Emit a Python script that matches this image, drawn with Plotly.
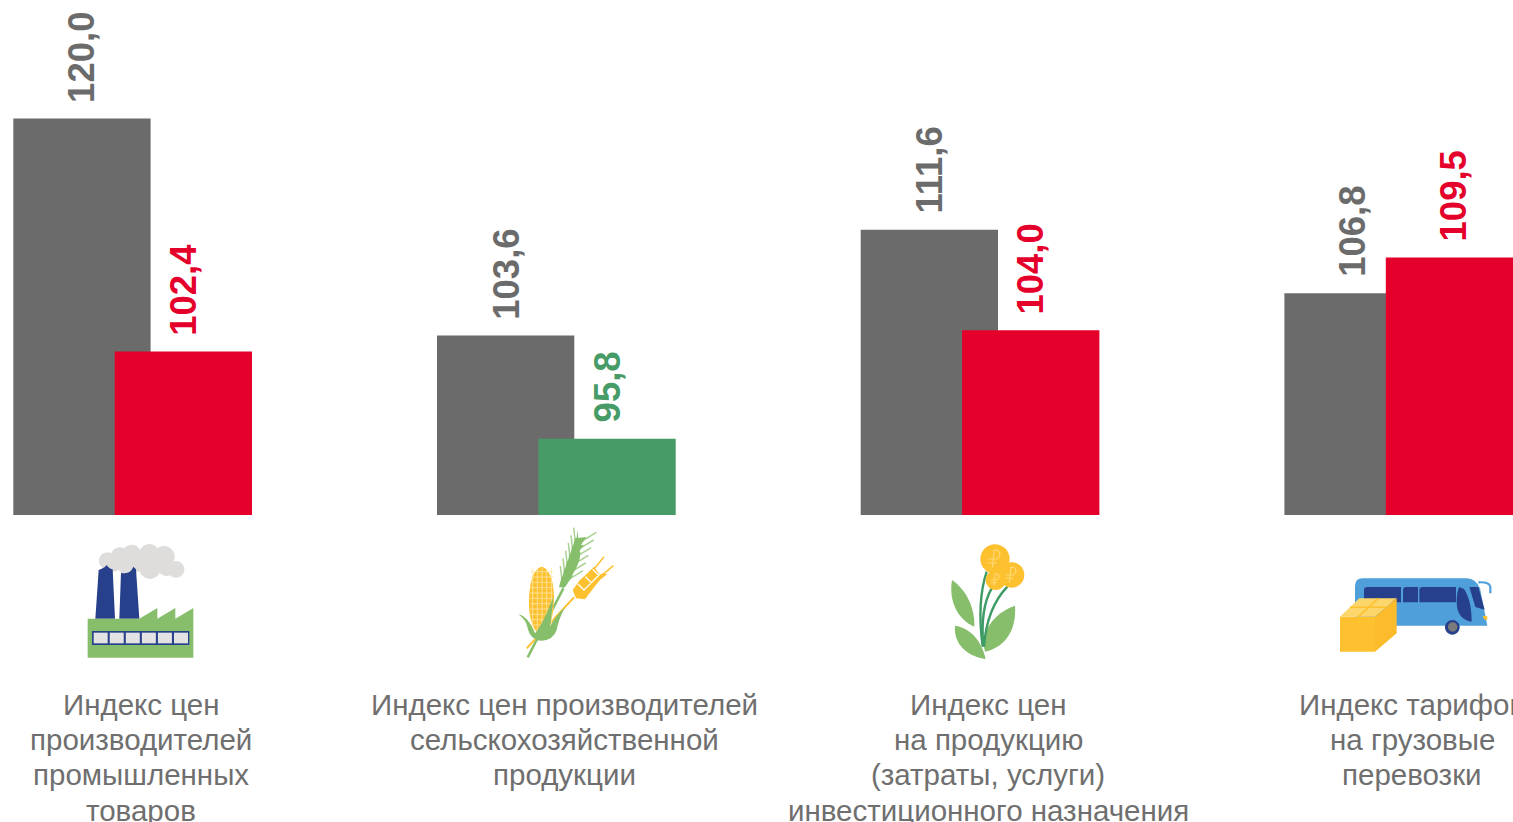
import plotly.graph_objects as go

category_lines = [
    ["Индекс цен", "производителей", "промышленных", "товаров"],
    ["Индекс цен производителей", "сельскохозяйственной", "продукции"],
    ["Индекс цен", "на продукцию", "(затраты, услуги)", "инвестиционного назначения"],
    ["Индекс тарифов", "на грузовые", "перевозки"],
]
previous_values = [120.0, 103.6, 111.6, 106.8]
current_values = [102.4, 95.8, 104.0, 109.5]

GREY = "#6B6B6B"
RED = "#E4002B"
GREEN = "#469B67"
TEXT = "#6F6F6F"
W, H = 1513, 822
BOTTOM = 515
PITCH = 423.7
CENTER0 = 141.0
Y_BASE = 90.05
Y_PER_PX = 1 / 13.24

def cx(px):
    return (px - CENTER0) / PITCH

positions = list(range(len(category_lines)))
bar_w = 137.3 / PITCH
off_prev = cx(13.3)
off_cur = cx(114.7)
cur_colors = [GREEN if v < 100 else RED for v in current_values]

fig = go.Figure()
fig.add_trace(go.Bar(x=positions, y=previous_values, width=bar_w, offset=off_prev,
                     marker=dict(color=GREY, line_width=0), showlegend=False, hoverinfo="y"))
fig.add_trace(go.Bar(x=positions, y=current_values, width=bar_w, offset=off_cur,
                     marker=dict(color=cur_colors, line_width=0), showlegend=False, hoverinfo="y"))

def fmt(v):
    return f"{v:.1f}".replace(".", ",")

annotations = []
for i in positions:
    for vals, off, col in ((previous_values, off_prev, GREY), (current_values, off_cur, cur_colors[i])):
        annotations.append(dict(
            x=i + off + bar_w / 2, y=vals[i], xref="x", yref="y", text=f"<b>{fmt(vals[i])}</b>",
            showarrow=False, textangle=-90, yanchor="bottom", xanchor="center", yshift=14,
            font=dict(family="Liberation Sans", size=36.5, color=col),
        ))
    for j, line in enumerate(category_lines[i]):
        annotations.append(dict(
            x=i, y=Y_BASE, xref="x", yref="y", text=line, showarrow=False,
            xanchor="center", yanchor="middle", yshift=-(189.2 + j * 35.3),
            font=dict(family="Liberation Sans", size=29.5, color=TEXT),
        ))

shapes = []
def P(x, y):
    return f"{x / W:.5f} {(BOTTOM - y) / BOTTOM:.5f}"

def path(ox, oy, cmds, fill=None, line=None, lw=0):
    out = []
    for c in cmds:
        pts = c[1:]
        s = c[0]
        for k in range(0, len(pts), 2):
            s += (" " if k else "") + P(ox + pts[k] / 3, oy + pts[k + 1] / 3)
        out.append(s)
    shapes.append(dict(type="path", xref="paper", yref="paper", path=" ".join(out),
                       fillcolor=fill if fill else "rgba(0,0,0,0)",
                       line=dict(color=line if line else "rgba(0,0,0,0)", width=lw), layer="above"))

def poly(ox, oy, pts, fill=None, close=True, line=None, lw=0):
    cmds = [("M",) + pts[0]] + [("L",) + p for p in pts[1:]]
    if close:
        cmds.append(("Z",))
    path(ox, oy, cmds, fill=fill, line=line, lw=lw)

def circle(ox, oy, x, y, r, fill):
    k = r * 0.5523
    path(ox, oy, [("M", x - r, y), ("C", x - r, y - k, x - k, y - r, x, y - r),
                  ("C", x + k, y - r, x + r, y - k, x + r, y),
                  ("C", x + r, y + k, x + k, y + r, x, y + r),
                  ("C", x - k, y + r, x - r, y + k, x - r, y), ("Z",)], fill=fill)

def seg(ox, oy, a, b, col, lw):
    poly(ox, oy, [a, b], close=False, line=col, lw=lw)

LEAF = "#86BE6C"
NAVY = "#27408B"
YEL = "#FDC12F"
SMOKE = "#DEDDDC"
LBLUE = "#4F9FDB"

# factory
ox, oy = 70, 530
for c in [(112, 92, 25), (150, 80, 28), (185, 72, 28), (238, 72, 30), (282, 80, 32), (318, 118, 25),
          (240, 115, 32), (170, 105, 28), (290, 112, 26), (205, 95, 30), (130, 100, 25)]:
    circle(ox, oy, c[0], c[1], c[2], SMOKE)
path(ox, oy, [("M", 76, 266), ("L", 86, 120), ("Q", 106, 112, 110, 105), ("Q", 120, 118, 128, 118),
              ("L", 135, 266), ("Z",)], fill=NAVY)
path(ox, oy, [("M", 148, 266), ("L", 153, 128), ("Q", 180, 135, 190, 110), ("L", 198, 118),
              ("L", 208, 266), ("Z",)], fill=NAVY)
poly(ox, oy, [(53, 266), (208, 266), (262, 234), (262, 266), (316, 234), (316, 266), (370, 234),
              (370, 383), (53, 383)], fill=LEAF)
poly(ox, oy, [(66, 303), (358, 303), (358, 345), (66, 345)], fill=NAVY)
for i in range(6):
    x0 = 71 + i * 48.2
    poly(ox, oy, [(x0, 308), (x0 + 42, 308), (x0 + 42, 340), (x0, 340)], fill="#E3E3E3")

# grain
ox, oy = 500, 520
LEAF2 = "#A9D293"
seg(ox, oy, (83, 412), (190, 205), LEAF, 2.5)
for k in range(6):
    t = k / 5
    bx, by = 187 + 40 * t, 190 - 115 * t
    seg(ox, oy, (bx, by), (bx - 6, by - 52), LEAF2, 1.5)
    seg(ox, oy, (bx, by), (bx + 62, by - 38), LEAF2, 1.5)
    poly(ox, oy, [(bx - 10, by + 12), (bx - 2, by - 20), (bx + 32, by - 24), (bx + 8, by + 12)], fill=LEAF)
path(ox, oy, [("M", 182, 198), ("Q", 186, 170, 225, 110), ("L", 232, 30), ("L", 240, 100),
              ("Q", 245, 130, 190, 205), ("Z",)], fill=LEAF)
seg(ox, oy, (80, 385), (222, 232), YEL, 2)
seg(ox, oy, (280, 150), (312, 110), YEL, 1.5)
seg(ox, oy, (295, 175), (340, 137), YEL, 1.5)
poly(ox, oy, [(218, 210), (240, 180), (262, 160), (282, 140), (296, 160), (322, 162), (300, 180),
              (280, 205), (255, 238), (228, 235)], fill=YEL)
for k in range(3):
    d = k * 22
    poly(ox, oy, [(234 + d, 192 - d), (252 + d, 210 - d), (272 + d, 190 - d)], close=False, line="#FFFFFF", lw=1.3)
path(ox, oy, [("M", 125, 140), ("C", 90, 150, 85, 220, 88, 270), ("C", 90, 310, 110, 345, 125, 345),
              ("C", 150, 345, 162, 280, 162, 230), ("C", 162, 190, 150, 145, 125, 140), ("Z",)], fill=YEL)
for yy in range(155, 340, 16):
    seg(ox, oy, (90, yy), (160, yy), "#FFE7A6", 0.8)
for xx in range(98, 160, 14):
    seg(ox, oy, (xx, 145), (xx, 340), "#FFE7A6", 0.8)
path(ox, oy, [("M", 55, 283), ("Q", 85, 290, 105, 340), ("Q", 130, 310, 160, 230), ("Q", 155, 290, 150, 320),
              ("Q", 165, 290, 195, 262), ("Q", 175, 300, 170, 330), ("Q", 160, 360, 125, 362),
              ("Q", 90, 360, 82, 320), ("Q", 78, 300, 55, 283), ("Z",)], fill=LEAF)

# flower
ox, oy = 930, 535
STEM = "#3F9B66"
path(ox, oy, [("M", 66, 135), ("C", 110, 165, 135, 220, 133, 275), ("C", 85, 255, 55, 200, 66, 135), ("Z",)], fill=LEAF)
path(ox, oy, [("M", 75, 272), ("C", 125, 280, 155, 320, 167, 372), ("C", 115, 365, 70, 330, 75, 272), ("Z",)], fill=LEAF)
path(ox, oy, [("M", 255, 212), ("C", 260, 280, 230, 335, 165, 350), ("C", 150, 290, 190, 235, 255, 212), ("Z",)], fill=LEAF)
path(ox, oy, [("M", 158, 335), ("Q", 140, 200, 170, 110)], line=STEM, lw=2.4)
path(ox, oy, [("M", 160, 335), ("Q", 150, 220, 185, 160)], line=STEM, lw=2.4)
path(ox, oy, [("M", 162, 335), ("Q", 170, 220, 232, 155)], line=STEM, lw=2.4)
for c in [(195, 72, 44), (245, 120, 38), (197, 135, 30)]:
    circle(ox, oy, c[0], c[1], c[2], YEL)
    r = c[2] * 0.6
    x, y = c[0], c[1]
    path(ox, oy, [("M", x - r * 0.3, y + r), ("L", x - r * 0.1, y - r), ("L", x + r * 0.3, y - r),
                  ("Q", x + r * 0.9, y - r * 0.5, x + r * 0.2, y), ("L", x - r * 0.8, y)], line="#FFD873", lw=1.2)
    seg(ox, oy, (x - r * 0.8, y + r * 0.45), (x + r * 0.2, y + r * 0.45), "#FFD873", 1.2)

# bus and parcel
ox, oy = 1330, 565
path(ox, oy, [("M", 75, 62), ("Q", 76, 40, 98, 40), ("L", 410, 40), ("Q", 438, 42, 450, 70),
              ("L", 472, 182), ("L", 75, 182), ("Z",)], fill=LBLUE)
path(ox, oy, [("M", 445, 52), ("Q", 478, 50, 481, 65), ("L", 481, 85)], line=LBLUE, lw=2.2)
for a, b in [(102, 213), (219, 264), (268, 378)]:
    path(ox, oy, [("M", a, 76), ("Q", a, 66, a + 10, 66), ("L", b, 66), ("L", b, 112), ("L", a, 112), ("Z",)], fill=NAVY)
path(ox, oy, [("M", 388, 66), ("L", 402, 72), ("C", 418, 95, 425, 130, 425, 170), ("C", 395, 165, 380, 145, 380, 110),
              ("C", 380, 90, 383, 75, 388, 66), ("Z",)], fill=NAVY)
poly(ox, oy, [(418, 66), (445, 66), (464, 134), (436, 126)], fill=NAVY)
poly(ox, oy, [(458, 152), (472, 154), (472, 165), (462, 163)], fill=YEL)
circle(ox, oy, 367, 187, 22, NAVY)
circle(ox, oy, 368, 186, 14, "#7A7A7A")
poly(ox, oy, [(30, 155), (135, 155), (135, 260), (30, 260)], fill=YEL)
poly(ox, oy, [(30, 155), (88, 100), (200, 100), (135, 155)], fill="#FDD66B")
poly(ox, oy, [(135, 155), (200, 100), (200, 205), (135, 260)], fill="#FBBB2A")
seg(ox, oy, (60, 127), (168, 127), YEL, 1.5)
seg(ox, oy, (85, 155), (145, 100), YEL, 1.5)

fig.update_layout(
    width=W, height=H, autosize=False,
    margin=dict(l=0, r=0, t=0, b=H - BOTTOM, pad=0),
    paper_bgcolor="white", plot_bgcolor="white",
    barmode="overlay", showlegend=False,
    annotations=annotations, shapes=shapes,
    xaxis=dict(range=[cx(0), cx(W)], showticklabels=False, ticks="", showgrid=False,
               zeroline=False, showline=False),
    yaxis=dict(range=[Y_BASE, Y_BASE + BOTTOM * Y_PER_PX], visible=False, showgrid=False, zeroline=False),
)
fig.write_html("out.html", config=dict(displayModeBar=False),
               post_script="document.documentElement.style.overflow='hidden';document.body.style.margin='0';document.body.style.padding='0';")
